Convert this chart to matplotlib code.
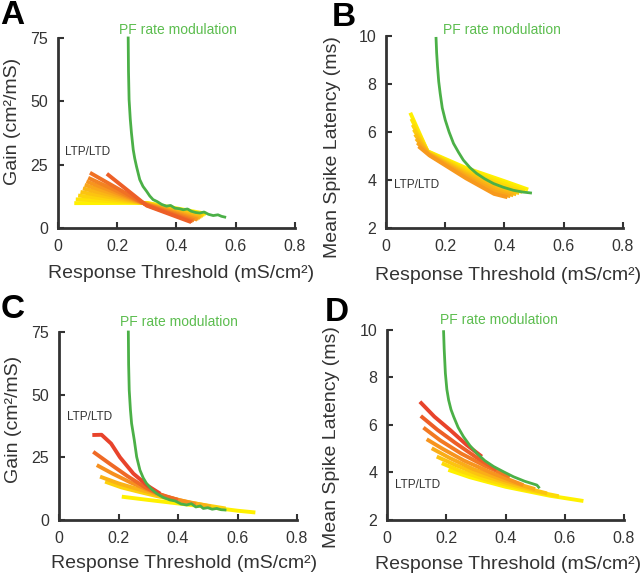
import numpy as np
import matplotlib.pyplot as plt
from matplotlib.colors import LinearSegmentedColormap

plt.rcParams['font.family'] = ['Liberation Sans', 'DejaVu Sans']

AX_COLOR = '#333333'
GREEN = '#4bb047'
GREEN_TXT = '#5cbd4f'
fan_cmap = LinearSegmentedColormap.from_list('fan', ['#fff100', '#f9a21c', '#e8432b'])

# --- Panel A: gain, LTP/LTD ---
a_pf_x = [0.237, 0.238, 0.240, 0.244, 0.248, 0.254, 0.259, 0.265, 0.276, 0.287, 0.299, 0.310, 0.321,
          0.335, 0.350, 0.366, 0.380, 0.395, 0.410, 0.423, 0.437, 0.450, 0.465, 0.479, 0.493, 0.508,
          0.524, 0.540, 0.552, 0.563]
a_pf_y = [75, 62, 50.7, 43, 37.5, 30.9, 27.5, 24.3, 19.1, 16.4, 14.5, 12.6, 11.2,
          10.4, 9.3, 8.6, 8.9, 7.8, 7.6, 7.2, 7.5, 6.6, 6.1, 5.9, 6.3, 5.4,
          4.9, 5.2, 4.6, 4.3]
a_fan_x = [
    [0.055, 0.30, 0.500],
    [0.060, 0.30, 0.495],
    [0.068, 0.30, 0.490],
    [0.076, 0.30, 0.485],
    [0.084, 0.30, 0.480],
    [0.090, 0.30, 0.475],
    [0.096, 0.30, 0.470],
    [0.102, 0.30, 0.460],
    [0.108, 0.30, 0.455],
    [0.165, 0.30, 0.450],
]
a_fan_y = [
    [9.8, 9.9, 5.6],
    [11.3, 9.8, 5.2],
    [12.8, 9.7, 4.8],
    [14.2, 9.6, 4.4],
    [15.6, 9.5, 4.0],
    [17.0, 9.4, 3.6],
    [18.4, 9.3, 3.3],
    [19.8, 9.2, 3.0],
    [21.8, 9.0, 2.6],
    [21.4, 8.8, 2.3],
]

# --- Panel B: latency, LTP/LTD ---
b_pf_x = [0.169, 0.171, 0.174, 0.178, 0.183, 0.190, 0.200, 0.213, 0.228, 0.245, 0.261, 0.283, 0.306,
          0.333, 0.363, 0.395, 0.430, 0.460, 0.488]
b_pf_y = [9.9, 9.3, 8.72, 8.1, 7.6, 7.0, 6.5, 6.0, 5.52, 5.15, 4.83, 4.52, 4.27,
          4.05, 3.85, 3.7, 3.57, 3.5, 3.46]
b_fan_x = [
    [0.082, 0.140, 0.270, 0.400, 0.480],
    [0.086, 0.141, 0.270, 0.395, 0.470],
    [0.090, 0.142, 0.270, 0.390, 0.460],
    [0.094, 0.143, 0.270, 0.385, 0.450],
    [0.098, 0.144, 0.270, 0.380, 0.440],
    [0.102, 0.145, 0.270, 0.375, 0.430],
    [0.106, 0.146, 0.270, 0.370, 0.420],
    [0.110, 0.147, 0.270, 0.365, 0.410],
]
b_fan_y = [
    [6.80, 5.20, 4.50, 3.95, 3.60],
    [6.55, 5.18, 4.44, 3.88, 3.55],
    [6.30, 5.15, 4.38, 3.80, 3.50],
    [6.10, 5.12, 4.32, 3.72, 3.45],
    [5.90, 5.10, 4.26, 3.64, 3.40],
    [5.72, 5.08, 4.20, 3.57, 3.36],
    [5.55, 5.05, 4.14, 3.50, 3.32],
    [5.40, 5.02, 4.07, 3.42, 3.28],
]

# --- Panel C: gain, LTP/LTD (second model) ---
c_pf_x = [0.233, 0.234, 0.236, 0.240, 0.244, 0.253, 0.261, 0.272, 0.283, 0.294, 0.310, 0.328, 0.350,
          0.373, 0.390, 0.410, 0.429, 0.445, 0.460, 0.475, 0.485, 0.500, 0.515, 0.530, 0.545, 0.558]
c_pf_y = [75, 62, 51.8, 44, 38.5, 31.9, 25.2, 19.9, 16.8, 14.6, 12.4, 10.6, 9.0,
          8.0, 7.6, 6.4, 6.0, 6.5, 5.2, 5.6, 4.6, 4.9, 4.3, 4.6, 4.1, 4.0]
c_fan_x = [
    [0.211, 0.30, 0.40, 0.50, 0.60, 0.66],
    [0.155, 0.21, 0.27, 0.33, 0.42, 0.56],
    [0.138, 0.20, 0.26, 0.32, 0.40, 0.51],
    [0.127, 0.18, 0.24, 0.30, 0.36, 0.46],
    [0.115, 0.17, 0.23, 0.29, 0.34, 0.40],
    [0.112, 0.143, 0.175, 0.205, 0.25, 0.30, 0.34],
]
c_fan_y = [
    [9.3, 8.0, 6.6, 5.2, 3.7, 3.0],
    [15.3, 13.0, 11.2, 9.5, 7.3, 4.6],
    [17.3, 14.6, 12.5, 10.5, 8.0, 5.4],
    [21.9, 18.5, 15.0, 12.0, 9.3, 6.3],
    [27.2, 22.5, 17.5, 13.0, 10.2, 8.0],
    [33.9, 34.0, 30.5, 25.0, 18.5, 13.5, 10.5],
]

# --- Panel D: latency, LTP/LTD (second model) ---
d_pf_x = [0.191, 0.193, 0.197, 0.202, 0.208, 0.216, 0.225, 0.240, 0.258, 0.280, 0.303, 0.330, 0.360,
          0.395, 0.427, 0.465, 0.506, 0.512]
d_pf_y = [9.93, 9.2, 8.18, 7.5, 7.05, 6.65, 6.35, 5.9, 5.51, 5.13, 4.81, 4.5, 4.25,
          4.02, 3.82, 3.63, 3.47, 3.38]
d_fan_x = [
    [0.207, 0.280, 0.400, 0.550, 0.663],
    [0.185, 0.250, 0.340, 0.460, 0.580],
    [0.168, 0.230, 0.310, 0.420, 0.540],
    [0.151, 0.210, 0.290, 0.390, 0.500],
    [0.134, 0.190, 0.260, 0.350, 0.460],
    [0.123, 0.180, 0.250, 0.330, 0.415],
    [0.114, 0.170, 0.230, 0.300, 0.370],
    [0.111, 0.160, 0.213, 0.269, 0.320],
]
d_fan_y = [
    [4.11, 3.80, 3.40, 3.02, 2.80],
    [4.39, 4.05, 3.68, 3.30, 3.00],
    [4.67, 4.32, 3.92, 3.50, 3.12],
    [5.02, 4.62, 4.15, 3.70, 3.30],
    [5.40, 4.98, 4.50, 4.00, 3.47],
    [5.89, 5.35, 4.80, 4.28, 3.82],
    [6.38, 5.80, 5.25, 4.65, 4.11],
    [6.98, 6.35, 5.79, 5.16, 4.67],
]

# letter, axes rect, pf curve, fan curves, colormap range, ylim, yticks, ylabel,
# pf text pos, LTP/LTD text pos, ylabel coords, xlabel coords, letter pos
panels = [
    ('A', [0.0906, 0.6049, 0.3703, 0.3293], (a_pf_x, a_pf_y), (a_fan_x, a_fan_y), (0.0, 0.85),
     (0, 75), [0, 25, 50, 75], 'Gain (cm²/mS)', (0.207, 78.2), (0.024, 30),
     (-0.192, 0.56), (0.519, -0.237), (0.0, 24)),
    ('B', [0.6031, 0.6049, 0.3703, 0.3328], (b_pf_x, b_pf_y), (b_fan_x, b_fan_y), (0.0, 0.55),
     (2, 10), [2, 4, 6, 8, 10], 'Mean Spike Latency (ms)', (0.193, 10.25), (0.027, 3.8),
     (-0.224, 0.42), (0.515, -0.245), (332, 26)),
    ('C', [0.0922, 0.0988, 0.3719, 0.3258], (c_pf_x, c_pf_y), (c_fan_x, c_fan_y), (0.0, 1.0),
     (0, 75), [0, 25, 50, 75], 'Gain (cm²/mS)', (0.205, 78.8), (0.026, 41),
     (-0.191, 0.537), (0.525, -0.229), (1, 318)),
    ('D', [0.6047, 0.0988, 0.3703, 0.3293], (d_pf_x, d_pf_y), (d_fan_x, d_fan_y), (0.0, 1.0),
     (2, 10), [2, 4, 6, 8, 10], 'Mean Spike Latency (ms)', (0.179, 10.42), (0.027, 3.47),
     (-0.234, 0.437), (0.51, -0.232), (325, 321)),
]

W, H = 640, 577
fig = plt.figure(figsize=(W / 100, H / 100), dpi=100)

for (letter, rect, pf, fan, crange, ylim, yticks, ylabel, pf_pos, ltp_pos,
     ylab_xy, xlab_xy, let_xy) in panels:
    ax = fig.add_axes(rect)
    fx, fy = fan
    n = len(fx)
    cols = fan_cmap(np.linspace(crange[0], crange[1], n))
    for i in range(n):
        ax.plot(fx[i], fy[i], color=cols[i], lw=2.8, solid_capstyle='butt', clip_on=False, zorder=2)
    ax.plot(pf[0], pf[1], color=GREEN, lw=2.0, clip_on=False, zorder=3)

    ax.set_xlim(0, 0.8)
    ax.set_ylim(*ylim)
    ax.set_xticks([0, 0.2, 0.4, 0.6, 0.8])
    ax.set_xticklabels(['0', '0.2', '0.4', '0.6', '0.8'])
    ax.set_yticks(yticks)
    for s in ['top', 'right']:
        ax.spines[s].set_visible(False)
    for s in ['left', 'bottom']:
        ax.spines[s].set_linewidth(2)
        ax.spines[s].set_color(AX_COLOR)
    ax.tick_params(direction='in', length=4, width=1.5, color=AX_COLOR,
                   labelcolor=AX_COLOR, labelsize=11.5)
    ax.tick_params(axis='x', pad=8)
    ax.tick_params(axis='y', pad=7)
    ax.set_xlabel('Response Threshold (mS/cm²)', fontsize=14, color=AX_COLOR)
    ax.set_ylabel(ylabel, fontsize=14, color=AX_COLOR)
    ax.yaxis.set_label_coords(*ylab_xy)
    ax.yaxis.label.set_verticalalignment('center')
    ax.xaxis.set_label_coords(*xlab_xy)
    ax.xaxis.label.set_verticalalignment('center')
    ax.patch.set_alpha(0)

    ax.text(pf_pos[0], pf_pos[1], 'PF rate modulation', color=GREEN_TXT, fontsize=10,
            ha='left', va='center', clip_on=False)
    ax.text(ltp_pos[0], ltp_pos[1], 'LTP/LTD', color=AX_COLOR, fontsize=8.5,
            ha='left', va='center')

    fig.text(let_xy[0] / W, 1 - let_xy[1] / H, letter, fontsize=24, fontweight='bold',
             va='baseline', ha='left')

fig.savefig('out.png', dpi=100)
